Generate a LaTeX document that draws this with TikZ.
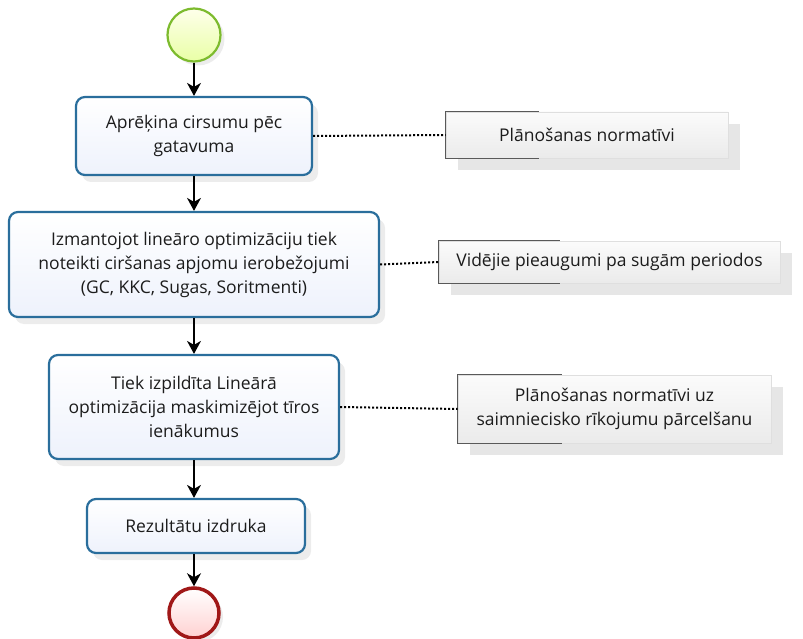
\documentclass[tikz,border=0pt]{standalone}
\usepackage{fontspec}
\setmainfont{Open Sans}
\usetikzlibrary{arrows.meta,positioning,shadows}

\definecolor{taskline}{HTML}{2A6E9C}
\definecolor{taskfill}{HTML}{EEF2FC}
\definecolor{startline}{HTML}{7DBB2E}
\definecolor{endline}{HTML}{A01818}
\definecolor{txtcol}{HTML}{1C1C1C}

\begin{document}
\begin{tikzpicture}[
		x=1pt, y=-1pt,
		font=\fontsize{17.5}{24}\selectfont\color{txtcol},
		task/.style={draw=taskline, line width=2.2pt, rounded corners=9pt, align=center,
			top color=white, bottom color=taskfill, inner sep=0pt,
			drop shadow={shadow xshift=6pt, shadow yshift=-7pt, opacity=0.15}},
		startev/.style={circle, draw=startline, line width=2.2pt, minimum size=53pt, inner sep=0pt,
			top color=green!4!yellow!8, bottom color=green!25!yellow!35!white,
			drop shadow={shadow xshift=4pt, shadow yshift=-4pt, opacity=0.15}},
		endev/.style={circle, draw=endline, line width=3.5pt, minimum size=50pt, inner sep=0pt,
			top color=white, bottom color=red!18,
			drop shadow={shadow xshift=4pt, shadow yshift=-4pt, opacity=0.15}},
		annot/.style={draw=gray!25, line width=0.6pt, align=center, inner sep=0pt,
			top color=gray!3, bottom color=gray!16,
			drop shadow={shadow xshift=12pt, shadow yshift=-12pt, opacity=0.2}},
		brack/.style={draw=gray!70!black, line width=1.2pt},
		flow/.style={-{Stealth[length=13pt, width=14pt, inset=4pt]}, line width=1.4pt, black},
		assoc/.style={dotted, line width=2pt, black}
	]
		\useasboundingbox (0,0) rectangle (803,639);

		\node[startev] (start) at (194,35) {};
		\node[task, minimum width=236pt, minimum height=78pt] (calc) at (194,136) {Aprēķina cirsumu pēc\\gatavuma};
		\node[task, minimum width=370pt, minimum height=105pt] (limits) at (194,264.5) {Izmantojot lineāro optimizāciju tiek\\noteikti ciršanas apjomu ierobežojumi\\(GC, KKC, Sugas, Soritmenti)};
		\node[task, minimum width=290pt, minimum height=104pt] (optim) at (194,407) {Tiek izpildīta Lineārā\\optimizācija maskimizējot tīros\\ienākumus};
		\node[task, minimum width=218pt, minimum height=54pt] (print) at (196,526) {Rezultātu izdruka};
		\node[endev] (stop) at (194,613) {};

		\node[annot, minimum width=282pt, minimum height=46pt] (norm) at (587,135) {Plānošanas normatīvi};
		\node[annot, minimum width=341pt, minimum height=42pt] (growth) at (609.5,262) {Vidējie pieaugumi pa sugām periodos};
		\node[annot, minimum width=313pt, minimum height=68pt] (transfer) at (614.5,409) {Plānošanas normatīvi uz\\saimniecisko rīkojumu pārcelšanu};

		% brackets of the annotations
		\draw[brack] ([xshift=93pt]norm.north west) -| (norm.south west) -- ++(93,0);
		\draw[brack] ([xshift=121pt]growth.north west) -| (growth.south west) -- ++(121,0);
		\draw[brack] ([xshift=104pt]transfer.north west) -| (transfer.south west) -- ++(104,0);

		\draw[flow] (start) -- (calc);
		\draw[flow] (calc) -- (limits);
		\draw[flow] (limits) -- (optim);
		\draw[flow] (optim) -- (print.north -| optim.south);
		\draw[flow] (print.south -| stop.north) -- (stop);

		\draw[assoc] (calc.east) -- (norm.west);
		\draw[assoc] (limits.east) -- (growth.west);
		\draw[assoc] (optim.east) -- (transfer.west);
	\end{tikzpicture}
\end{document}
